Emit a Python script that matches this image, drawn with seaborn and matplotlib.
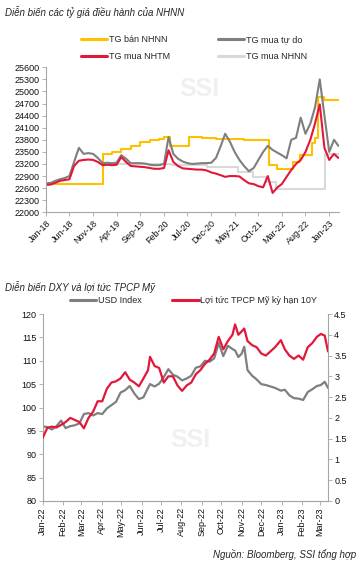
import pandas as pd
import matplotlib
matplotlib.use('Agg')
import matplotlib.pyplot as plt
import matplotlib.dates as mdates
from matplotlib.ticker import FuncFormatter
import seaborn as sns

# ---- chart 1: ty gia dieu hanh (monthly, Jan-18 .. Mar-23) ----
months = pd.date_range('2018-01-01', '2023-03-01', freq='MS')

tg_mua_tu_do = [22720, 22730, 22780, 22820, 22850, 22900,
                23250, 23600, 23450, 23470, 23450, 23350,
                23220, 23230, 23220, 23230, 23420, 23330,
                23220, 23220, 23220, 23210, 23180, 23170,
                23170, 23200, 23870, 23450, 23330, 23260,
                23220, 23200, 23210, 23220, 23220, 23230,
                23350, 23650, 23950, 23750, 23500, 23300,
                23150, 23020, 23100, 23300, 23500, 23650,
                23550, 23480, 23420, 23340, 23800, 23850,
                24350, 23950, 24200, 24600, 25300, 24400,
                23500, 23800, 23650]

tg_mua_nhtm = [22680, 22690, 22730, 22780, 22800, 22820,
               23150, 23280, 23300, 23310, 23300, 23250,
               23170, 23180, 23170, 23180, 23370, 23250,
               23150, 23140, 23130, 23120, 23100, 23080,
               23080, 23100, 23540, 23250, 23150, 23090,
               23080, 23070, 23060, 23060, 23040, 22990,
               22960, 22920, 22880, 22900, 22900, 22890,
               22800, 22720, 22700, 22650, 22620, 22900,
               22480, 22620, 22700, 22880, 23050, 23200,
               23300, 23500, 23800, 24200, 24680, 23600,
               23300, 23450, 23350]

tg_ban_dates = ['2018-01-01', '2019-01-01', '2019-03-01', '2019-05-01', '2019-07-01',
                '2019-09-01', '2019-11-01', '2020-01-01', '2020-02-01', '2020-03-10',
                '2020-07-12', '2020-10-01', '2021-01-01', '2021-04-01', '2021-07-01',
                '2021-10-01', '2021-12-10', '2022-01-28', '2022-05-10', '2022-06-25',
                '2022-09-10', '2022-10-01', '2022-10-20', '2022-12-01', '2023-03-05']
tg_ban_nhnn = [22700, 23450, 23500, 23580, 23650,
               23740, 23790, 23830, 23870, 23650,
               23870, 23850, 23830, 23810, 23800,
               23790, 23175, 23070, 23250, 23420,
               23710, 23840, 24870, 24800, 24800]

tg_mua_nhnn_dates = ['2019-01-01', '2020-03-20', '2020-11-01', '2021-05-20', '2021-08-25',
                     '2021-11-20', '2022-01-25', '2022-12-05', '2023-03-05']
tg_mua_nhnn = [23200, 23175, 23125, 23000, 22880,
               22750, 22590, 23450, 23450]

# ---- chart 2: DXY va loi tuc TPCP My 10Y ----
dxy_dates = ['2022-01-01', '2022-01-08', '2022-01-15', '2022-01-22', '2022-01-29',
             '2022-02-05', '2022-02-12', '2022-02-19', '2022-02-26', '2022-03-05',
             '2022-03-12', '2022-03-19', '2022-03-26', '2022-04-02', '2022-04-09',
             '2022-04-16', '2022-04-23', '2022-04-30', '2022-05-07', '2022-05-14',
             '2022-05-21', '2022-05-28', '2022-06-04', '2022-06-11', '2022-06-14',
             '2022-06-21', '2022-06-28', '2022-07-05', '2022-07-12', '2022-07-19',
             '2022-07-26', '2022-08-02', '2022-08-09', '2022-08-16', '2022-08-23',
             '2022-08-30', '2022-09-06', '2022-09-13', '2022-09-20', '2022-09-27',
             '2022-10-04', '2022-10-11', '2022-10-18', '2022-10-22', '2022-10-27',
             '2022-11-01', '2022-11-05', '2022-11-10', '2022-11-17', '2022-11-24',
             '2022-12-01', '2022-12-08', '2022-12-15', '2022-12-22', '2022-12-31',
             '2023-01-06', '2023-01-13', '2023-01-20', '2023-01-27', '2023-02-03',
             '2023-02-10', '2023-02-17', '2023-02-24', '2023-03-02', '2023-03-08',
             '2023-03-13']
usd_index = [96.0, 95.8, 95.3, 96.0, 97.2,
             95.6, 96.0, 96.2, 96.6, 98.6,
             98.8, 98.3, 98.8, 98.6, 99.8,
             100.5, 101.2, 103.2, 103.7, 104.6,
             103.0, 101.8, 102.2, 104.2, 105.0,
             104.5, 105.1, 106.5, 108.2, 107.0,
             106.6, 105.8, 106.2, 106.8, 108.5,
             108.8, 110.0, 109.8, 110.5, 113.8,
             111.0, 113.2, 112.5, 112.2, 110.8,
             111.5, 113.0, 108.0, 106.8, 106.0,
             105.0, 104.8, 104.5, 104.2, 103.6,
             103.8, 102.6, 102.0, 101.9, 101.6,
             103.3, 103.9, 104.6, 104.8, 105.5,
             104.2]
us10y = [1.52, 1.76, 1.79, 1.77, 1.83,
         1.90, 2.00, 1.95, 1.90, 1.75,
         2.00, 2.15, 2.40, 2.40, 2.70,
         2.85, 2.88, 2.95, 3.10, 2.92,
         2.85, 2.76, 2.95, 3.15, 3.47,
         3.25, 3.20, 2.85, 3.00, 3.00,
         2.78, 2.65, 2.78, 2.85, 3.05,
         3.15, 3.30, 3.40, 3.55, 3.95,
         3.65, 3.85, 4.00, 4.25, 4.00,
         4.08, 4.15, 3.85, 3.75, 3.70,
         3.55, 3.50, 3.60, 3.70, 3.87,
         3.65, 3.50, 3.42, 3.50, 3.40,
         3.70, 3.80, 3.95, 4.02, 3.98,
         3.60]

YELLOW = '#FFC000'
GRAY = '#7F7F7F'
RED = '#E3173A'
LIGHT = '#D9D9D9'
SPINE = '#A6A6A6'

sns.set_theme(style='white')
plt.rcParams['font.family'] = ['Liberation Sans Narrow', 'Liberation Sans', 'DejaVu Sans']

W, H = 364, 571
fig = plt.figure(figsize=(W / 100, H / 100), dpi=100)


def style_axis(ax, left=True, right=False):
    for s in ax.spines.values():
        s.set_color(SPINE)
        s.set_linewidth(0.8)
    ax.spines['top'].set_visible(False)
    ax.spines['right'].set_visible(right)
    ax.spines['left'].set_visible(left)
    ax.tick_params(axis='both', labelsize=6.5, length=3, width=0.6, color=SPINE,
                   pad=1.5, direction='out', labelcolor='#111111')


def clear_legend(ax):
    if ax.get_legend() is not None:
        ax.get_legend().remove()


# ---- top chart ----
ax1 = fig.add_axes([46 / W, 1 - 212.3 / H, (339 - 46) / W, (212.3 - 67.3) / H])
sns.lineplot(x=pd.to_datetime(tg_ban_dates), y=tg_ban_nhnn, ax=ax1, color=YELLOW,
             lw=1.5, drawstyle='steps-post', label='TG bán NHNN')
sns.lineplot(x=pd.to_datetime(tg_mua_nhnn_dates), y=tg_mua_nhnn, ax=ax1, color=LIGHT,
             lw=1.5, drawstyle='steps-post', label='TG mua NHNN')
sns.lineplot(x=months, y=tg_mua_tu_do, ax=ax1, color=GRAY, lw=1.5, label='TG mua tự do')
sns.lineplot(x=months, y=tg_mua_nhtm, ax=ax1, color=RED, lw=1.5, label='TG mua NHTM')
clear_legend(ax1)

ax1.set_xlim(pd.Timestamp('2018-01-01'), pd.Timestamp('2023-03-05'))
ax1.set_ylim(22000, 25600)
ax1.set_yticks(range(22000, 25601, 300))
ax1.set_xticks(pd.date_range('2018-01-01', '2023-01-01', freq='5MS'))
ax1.xaxis.set_major_formatter(mdates.DateFormatter('%b-%y'))
ax1.set_xlabel('')
ax1.set_ylabel('')
style_axis(ax1)
ax1.tick_params(bottom=True, left=True)
plt.setp(ax1.get_xticklabels(), rotation=45, ha='right', rotation_mode='anchor')
ax1.text(199 / W, 1 - 89 / H, 'SSI', transform=fig.transFigure, fontsize=18,
         fontweight='bold', color='#F0F0F0', ha='center', va='center', zorder=0)

h, l = ax1.get_legend_handles_labels()
order = [l.index(n) for n in ['TG bán NHNN', 'TG mua NHTM', 'TG mua tự do', 'TG mua NHNN']]
leg1 = fig.legend([h[i] for i in order], [l[i] for i in order], loc='upper left',
                  bbox_to_anchor=(81 / W, 1 - 35 / H), ncol=2, frameon=False, fontsize=6.5,
                  handlelength=2.9, handletextpad=0.2, columnspacing=5.3, labelspacing=0.85,
                  borderpad=0, borderaxespad=0)
for ln in leg1.get_lines():
    ln.set_linewidth(2.2)

fig.text(5 / W, 1 - 12 / H, 'Diễn biến các tỷ giá điều hành của NHNN', fontsize=7,
         style='italic', va='center', ha='left')

# ---- bottom chart ----
ax2 = fig.add_axes([42.7 / W, 1 - 501 / H, (328 - 42.7) / W, (501 - 314) / H])
ax2r = ax2.twinx()
sns.lineplot(x=pd.to_datetime(dxy_dates), y=usd_index, ax=ax2, color=GRAY, lw=1.6,
             label='USD Index')
sns.lineplot(x=pd.to_datetime(dxy_dates), y=us10y, ax=ax2r, color=RED, lw=1.6,
             label='Lợi tức TPCP Mỹ kỳ hạn 10Y')
clear_legend(ax2)
clear_legend(ax2r)

ax2.set_xlim(pd.Timestamp('2022-01-01'), pd.Timestamp('2023-03-13'))
ax2.set_ylim(80, 120)
ax2.set_yticks(range(80, 121, 5))
ax2r.set_ylim(0, 4.5)
ax2r.set_yticks([i * 0.5 for i in range(10)])
ax2r.yaxis.set_major_formatter(FuncFormatter(lambda v, _: f'{v:g}'))
ax2.set_xticks(pd.date_range('2022-01-01', '2023-03-01', freq='MS'))
ax2.xaxis.set_major_formatter(mdates.DateFormatter('%b-%y'))
for a in (ax2, ax2r):
    a.set_xlabel('')
    a.set_ylabel('')
style_axis(ax2)
style_axis(ax2r, left=False, right=True)
ax2.spines['right'].set_visible(False)
ax2.tick_params(bottom=True, left=True)
ax2r.tick_params(right=True, left=False)
plt.setp(ax2.get_xticklabels(), rotation=90)
ax2.text(190 / W, 1 - 440 / H, 'SSI', transform=fig.transFigure, fontsize=18,
         fontweight='bold', color='#F0F0F0', ha='center', va='center', zorder=0)

h2, l2 = ax2.get_legend_handles_labels()
h3, l3 = ax2r.get_legend_handles_labels()
leg2 = fig.legend(h2 + h3, l2 + l3, loc='upper left', bbox_to_anchor=(70 / W, 1 - 296 / H),
                  ncol=2, frameon=False, fontsize=6.5, handlelength=2.9, handletextpad=0.2,
                  columnspacing=3.4, borderpad=0, borderaxespad=0)
for ln in leg2.get_lines():
    ln.set_linewidth(2.2)

fig.text(5 / W, 1 - 287 / H, 'Diễn biến DXY và lợi tức TPCP Mỹ', fontsize=7,
         style='italic', va='center', ha='left')
fig.text(356 / W, 1 - 555 / H, 'Nguồn: Bloomberg, SSI tổng hợp', fontsize=7,
         style='italic', va='center', ha='right')

fig.savefig('out.png', dpi=100)
